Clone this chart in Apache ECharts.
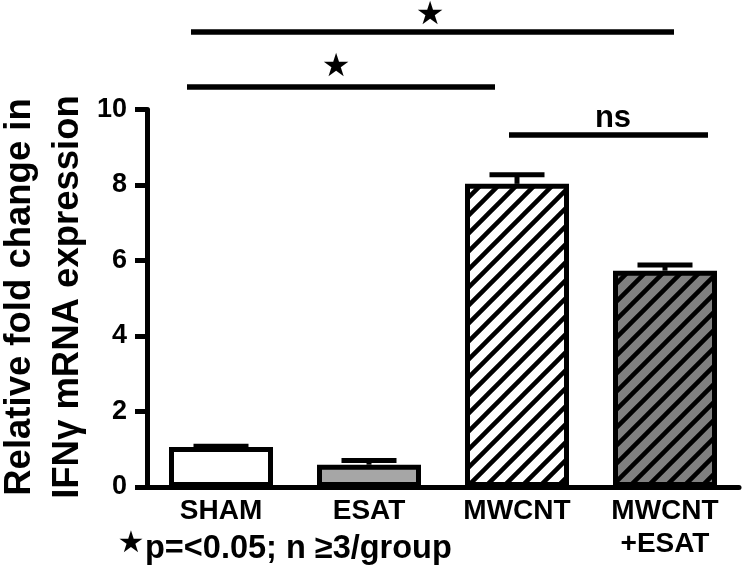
<!DOCTYPE html>
<html>
<head>
<meta charset="utf-8">
<script src="https://cdn.jsdelivr.net/npm/echarts@6/dist/echarts.min.js"></script>
<style>html,body{margin:0;padding:0;background:#fff}#c{width:742px;height:575px}</style>
</head>
<body>
<div id="c"></div>
<script>
// ---- data ----
const categories = ['SHAM', 'ESAT', 'MWCNT', 'MWCNT\n+ESAT'];
const means = [1.06, 0.59, 8.03, 5.73];
const sems = [0.02, 0.11, 0.24, 0.15];
const yMin = 0, yMax = 10, yStep = 2;
const yTitle = 'Relative fold change in\nIFNγ mRNA expression';
const footnote = 'p=<0.05; n ≥3/group';

// ---- styles ----
const FONT = "'Liberation Sans', Arial, sans-serif";
function stripes(bg) {
  const s = 18;
  const c = document.createElement('canvas');
  c.width = c.height = s;
  const g = c.getContext('2d');
  g.fillStyle = bg; g.fillRect(0, 0, s, s);
  g.strokeStyle = '#000'; g.lineWidth = 4.5; g.lineCap = 'butt';
  g.beginPath();
  g.moveTo(-s / 2, s * 1.5); g.lineTo(s * 1.5, -s / 2);
  g.moveTo(-s / 2, s / 2); g.lineTo(s / 2, -s / 2);
  g.moveTo(s / 2, s * 1.5); g.lineTo(s * 1.5, s / 2);
  g.stroke();
  return { image: c, repeat: 'repeat' };
}
const fills = ['#ffffff', '#a6a6a6', stripes('#ffffff'), stripes('#808080')];

const chart = echarts.init(document.getElementById('c'), null, { renderer: 'canvas' });
const option = {
  animation: false,
  backgroundColor: '#fff',
  textStyle: { fontFamily: FONT },
  grid: { left: 147, right: 3, top: 109.5, bottom: 88, containLabel: false, outerBoundsMode: 'none' },
  xAxis: {
    type: 'category',
    data: categories,
    axisLine: { lineStyle: { color: '#000', width: 5 } },
    axisTick: { show: false },
    axisLabel: { color: '#000', fontSize: 28, fontWeight: 'bold', fontFamily: FONT, lineHeight: 33, margin: 8, interval: 0 }
  },
  yAxis: {
    type: 'value',
    min: yMin, max: yMax, interval: yStep,
    axisLine: { show: true, lineStyle: { color: '#000', width: 5 } },
    axisTick: { show: true, inside: false, length: 12, lineStyle: { color: '#000', width: 5 } },
    axisLabel: { color: '#000', fontSize: 27, fontWeight: 'bold', fontFamily: FONT, margin: 20 },
    splitLine: { show: false }
  },
  series: [
    {
      type: 'bar',
      barWidth: 104,
      data: means.map((v, i) => ({ value: v, itemStyle: { color: fills[i] } })),
      itemStyle: { borderColor: '#000', borderWidth: 5 },
      z: 3
    },
    {
      type: 'custom',
      z: 4,
      data: means.map((v, i) => [i, v, sems[i]]),
      encode: { x: 0, y: 1 },
      renderItem: function (params, api) {
        const i = api.value(0);
        const base = api.coord([i, api.value(1)]);
        const top = api.coord([i, api.value(1) + api.value(2)]);
        const half = 27.5;
        return {
          type: 'group',
          children: [
            { type: 'line', shape: { x1: base[0], y1: base[1], x2: top[0], y2: top[1] }, style: { stroke: '#000', lineWidth: 5 } },
            { type: 'line', shape: { x1: top[0] - half, y1: top[1], x2: top[0] + half, y2: top[1] }, style: { stroke: '#000', lineWidth: 5 } }
          ]
        };
      }
    }
  ],
  graphic: [
    { type: 'text', x: 44, y: 297, rotation: Math.PI / 2, style: { text: yTitle, fontSize: 36.5, lineHeight: 48, fontWeight: 'bold', fontFamily: FONT, fill: '#000', align: 'center', verticalAlign: 'middle' } },
    { type: 'line', shape: { x1: 191, y1: 32, x2: 674, y2: 32 }, style: { stroke: '#000', lineWidth: 5.5 } },
    { type: 'text', x: 430, y: 16, style: { text: '★', fontSize: 32, fontFamily: 'DejaVu Sans', fill: '#000', align: 'center', verticalAlign: 'middle' } },
    { type: 'line', shape: { x1: 187, y1: 87, x2: 495, y2: 87 }, style: { stroke: '#000', lineWidth: 5.5 } },
    { type: 'text', x: 336, y: 68, style: { text: '★', fontSize: 32, fontFamily: 'DejaVu Sans', fill: '#000', align: 'center', verticalAlign: 'middle' } },
    { type: 'line', shape: { x1: 509, y1: 135, x2: 708, y2: 135 }, style: { stroke: '#000', lineWidth: 5.5 } },
    { type: 'text', x: 613, y: 118, style: { text: 'ns', fontSize: 31, fontWeight: 'bold', fontFamily: FONT, fill: '#000', align: 'center', verticalAlign: 'middle' } },
    { type: 'text', x: 131, y: 544, style: { text: '★', fontSize: 30, fontFamily: 'DejaVu Sans', fill: '#000', align: 'center', verticalAlign: 'middle' } },
    { type: 'text', x: 145, y: 549, style: { text: footnote, fontSize: 32.5, fontWeight: 'bold', fontFamily: FONT, fill: '#000', align: 'left', verticalAlign: 'middle' } }
  ]
};
chart.setOption(option);
</script>
</body>
</html>
